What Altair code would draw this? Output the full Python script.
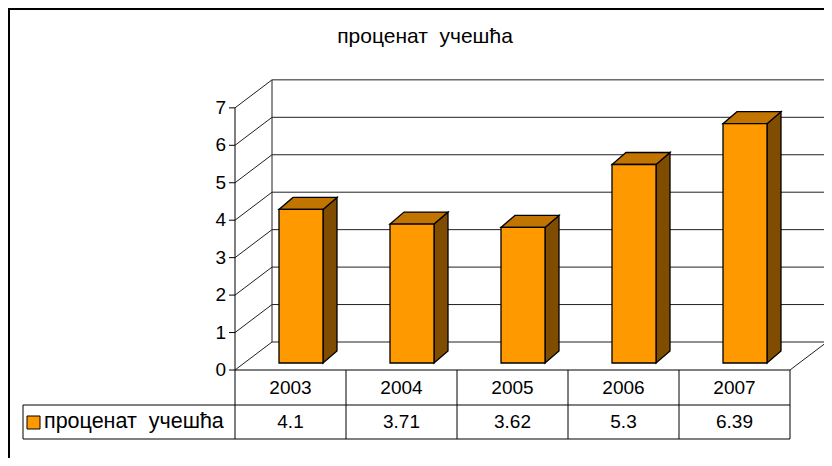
import altair as alt
import pandas as pd

# ---------------- data ----------------
years = ["2003", "2004", "2005", "2006", "2007"]
values = [4.1, 3.71, 3.62, 5.3, 6.39]
value_labels = ["4.1", "3.71", "3.62", "5.3", "6.39"]
y_ticks = [0, 1, 2, 3, 4, 5, 6, 7]
series_name = "проценат\u00a0 учешћа"
title_text = "проценат\u00a0 учешћа"

# ---------------- layout (page pixels -> data units) ----------------
W, H = 816, 450
ORG_X, ORG_Y = 8, 8
FRONT_X0 = 235      # page x of front-left corner of the floor
ZERO_Y = 370        # page y of value 0 on the front plane
CAT_PX = 111
UNIT_PX = 37.45


def u(px):
    return (px - FRONT_X0) / CAT_PX


def v(py):
    return (ZERO_Y - py) / UNIT_PX


N = len(years)
YMAX = max(y_ticks)
DX, DY = 37 / CAT_PX, 28 / UNIT_PX          # wall depth
BAR_L, BAR_W = 44 / CAT_PX, 44 / CAT_PX     # bar front face
BAR_B = 7 / UNIT_PX                          # bar front base level
BDX, BDY = 14 / CAT_PX, 12 / UNIT_PX        # bar depth

ROW1_B = v(405)
ROW2_B = v(439)
TABLE_L = u(23)

FONT = "Liberation Sans"
FRONT_C, TOP_C, SIDE_C = "#FF9900", "#C27400", "#804D00"

xs = alt.Scale(domain=[u(ORG_X), u(ORG_X + W)], nice=False, zero=False)
ys = alt.Scale(domain=[v(ORG_Y + H), v(ORG_Y)], nice=False, zero=False)


def X(f="x"):
    return alt.X(f, type="quantitative", scale=xs, axis=None)


def Y(f="y"):
    return alt.Y(f, type="quantitative", scale=ys, axis=None, stack=False)


# ---------------- frame lines ----------------
lines = []
grid = []
# outer chart frame (top & left)
lines.append(dict(x=u(ORG_X), x2=u(ORG_X + W), y=v(ORG_Y + 1), y2=v(ORG_Y + 1), w=2))
lines.append(dict(x=u(ORG_X + 1), x2=u(ORG_X + 1), y=v(ORG_Y), y2=v(ORG_Y + H), w=2))
for k in y_ticks:
    # back wall gridlines
    grid.append(dict(x=DX, x2=N + DX, y=k + DY, y2=k + DY))
    # side wall diagonals
    grid.append(dict(x=0, x2=DX, y=k, y2=k + DY))
    # axis ticks
    lines.append(dict(x=u(229), x2=0, y=k, y2=k, w=1))
# back wall verticals
grid.append(dict(x=DX, x2=DX, y=DY, y2=YMAX + DY))
grid.append(dict(x=N + DX, x2=N + DX, y=DY, y2=YMAX + DY))
# floor right diagonal
grid.append(dict(x=N, x2=N + DX, y=0, y2=DY))
# front axis line (runs down through table)
lines.append(dict(x=0, x2=0, y=YMAX, y2=ROW2_B, w=1))
# table
for i in range(1, N + 1):
    lines.append(dict(x=i, x2=i, y=0, y2=ROW2_B, w=1))
lines.append(dict(x=0, x2=N, y=0, y2=0, w=1))
lines.append(dict(x=TABLE_L, x2=N, y=ROW1_B, y2=ROW1_B, w=1))
lines.append(dict(x=TABLE_L, x2=N, y=ROW2_B, y2=ROW2_B, w=1))
lines.append(dict(x=TABLE_L, x2=TABLE_L, y=ROW1_B, y2=ROW2_B, w=1))

grid_df = pd.DataFrame(grid)
lines_df = pd.DataFrame(lines)

grid_layer = alt.Chart(grid_df).mark_rule(color="#202020", strokeWidth=1).encode(
    x=X(), x2="x2", y=Y(), y2="y2")
lines_layer = alt.Chart(lines_df).mark_rule(color="#000000").encode(
    x=X(), x2="x2", y=Y(), y2="y2",
    strokeWidth=alt.StrokeWidth("w:Q", scale=None))

# ---------------- bars ----------------
front_rows, top_rows, side_rows = [], [], []
for i, (yr, val) in enumerate(zip(years, values)):
    xl = i + BAR_L
    xr = xl + BAR_W
    top = BAR_B + val
    front_rows.append(dict(year=yr, x=xl, x2=xr, y=BAR_B, y2=top))
    top_rows += [
        dict(year=yr, x=xl, y=top, y2=top),
        dict(year=yr, x=xl + BDX, y=top, y2=top + BDY),
        dict(year=yr, x=xr, y=top, y2=top + BDY),
        dict(year=yr, x=xr + BDX, y=top + BDY, y2=top + BDY),
    ]
    side_rows += [
        dict(year=yr, x=xr, y=BAR_B, y2=top),
        dict(year=yr, x=xr + BDX, y=BAR_B + BDY, y2=top + BDY),
    ]

front_layer = alt.Chart(pd.DataFrame(front_rows)).mark_rect(
    fill=FRONT_C, stroke="black", strokeWidth=1.3).encode(
    x=X(), x2="x2", y=Y(), y2="y2")
top_layer = alt.Chart(pd.DataFrame(top_rows)).mark_area(
    fill=TOP_C, stroke="black", strokeWidth=1.3, orient="vertical",
    interpolate="linear", opacity=1).encode(
    x=X(), y=Y(), y2="y2", detail="year:N")
side_layer = alt.Chart(pd.DataFrame(side_rows)).mark_area(
    fill=SIDE_C, stroke="black", strokeWidth=1.3, orient="vertical",
    interpolate="linear", opacity=1).encode(
    x=X(), y=Y(), y2="y2", detail="year:N")

# ---------------- texts ----------------
tick_df = pd.DataFrame(dict(x=[u(226)] * len(y_ticks), y=y_ticks,
                            t=[str(t) for t in y_ticks]))
tick_text = alt.Chart(tick_df).mark_text(
    align="right", baseline="middle", font=FONT, fontSize=19, color="black").encode(
    x=X(), y=Y(), text="t:N")

year_df = pd.DataFrame(dict(x=[i + 0.5 for i in range(N)],
                            y=[(0 + ROW1_B) / 2] * N, t=years))
year_text = alt.Chart(year_df).mark_text(
    align="center", baseline="middle", font=FONT, fontSize=19, color="black").encode(
    x=X(), y=Y(), text="t:N")

val_df = pd.DataFrame(dict(x=[i + 0.5 for i in range(N)],
                           y=[(ROW1_B + ROW2_B) / 2] * N, t=value_labels))
val_text = alt.Chart(val_df).mark_text(
    align="center", baseline="middle", font=FONT, fontSize=19, color="black").encode(
    x=X(), y=Y(), text="t:N")

label_df = pd.DataFrame(dict(x=[u(44)], y=[(ROW1_B + ROW2_B) / 2], t=[series_name]))
label_text = alt.Chart(label_df).mark_text(
    align="left", baseline="middle", font=FONT, fontSize=21.5, color="black").encode(
    x=X(), y=Y(), text="t:N")

swatch_df = pd.DataFrame(dict(x=[u(27)], x2=[u(40)], y=[v(429)], y2=[v(416)]))
swatch = alt.Chart(swatch_df).mark_rect(
    fill=FRONT_C, stroke="black", strokeWidth=1).encode(
    x=X(), x2="x2", y=Y(), y2="y2")

title_df = pd.DataFrame(dict(x=[u(425)], y=[v(37)], t=[title_text]))
title = alt.Chart(title_df).mark_text(
    align="center", baseline="middle", font=FONT, fontSize=21, color="black").encode(
    x=X(), y=Y(), text="t:N")

chart = alt.layer(
    grid_layer, lines_layer, side_layer, top_layer, front_layer,
    tick_text, year_text, val_text, label_text, swatch, title,
).properties(
    width=W, height=H, autosize="none", padding=0,
).configure_view(stroke=None).configure(background="white")

chart.save("out.html", embed_options={"renderer": "svg", "actions": False})
